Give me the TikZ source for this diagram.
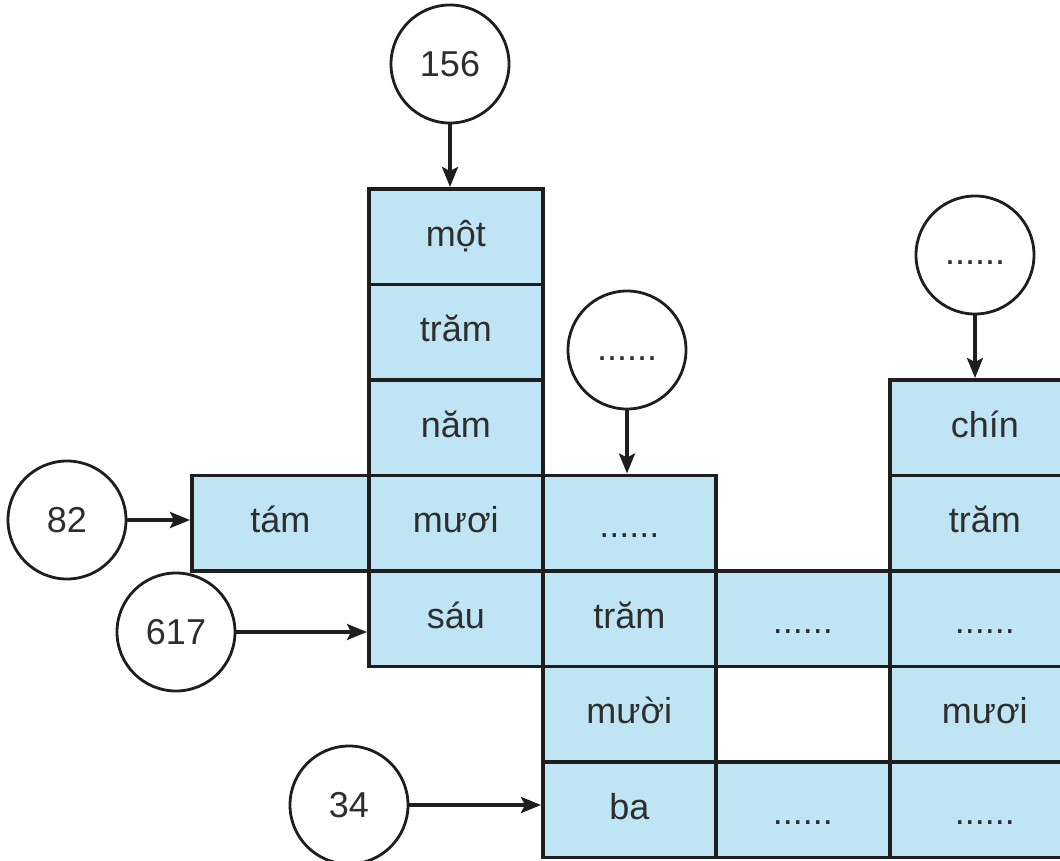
\documentclass[tikz,border=0pt]{standalone}
\usepackage{fontspec}
\setmainfont{Liberation Sans}
\usetikzlibrary{arrows.meta}
\definecolor{cellblue}{HTML}{BFE4F4}
\definecolor{ink}{HTML}{1E1E1E}
\definecolor{txt}{HTML}{2E2E2E}
\begin{document}
\begin{tikzpicture}[x=1pt,y=-1pt,
  cell/.style={draw=ink, line width=3.6pt, fill=cellblue, anchor=north west,
    inner sep=0pt, minimum height=95.5pt, text=txt,
    font=\fontsize{36}{40}\selectfont, text height=27pt, text depth=8pt},
  dotcell/.style={cell, text height=33pt, text depth=4pt},
  wA/.style={minimum width=177pt},
  wB/.style={minimum width=174pt},
  wC/.style={minimum width=173pt},
  wD/.style={minimum width=174pt},
  wE/.style={minimum width=190pt},
  numcirc/.style={circle, draw=ink, line width=2.8pt, fill=white, minimum size=118pt,
    inner sep=0pt, text=txt, font=\fontsize{36}{40}\selectfont},
  dotcirc/.style={numcirc, text height=20pt, text depth=0pt},
  arr/.style={draw=ink, line width=3.4pt, -{Stealth[length=20pt,width=16pt,inset=4pt]}}
]
\clip (0,0) rectangle (1060,861);
\fill[white] (0,0) rectangle (1060,861);

% column 2
\node[cell,wB] (mot)  at (367,187)   {một};
\node[cell,wB] (tramA) at (367,282.5) {trăm};
\node[cell,wB] (nam)  at (367,378)   {năm};
\node[cell,wB] (muoiA) at (367,473.5) {mươi};
\node[cell,wB] (sau)  at (367,569)   {sáu};
% column 1
\node[cell,wA] (tam)  at (190,473.5) {tám};
% column 3
\node[dotcell,wC] (dotsA) at (541,473.5) {......};
\node[cell,wC] (tramB) at (541,569)   {trăm};
\node[cell,wC] (muoiB) at (541,664.5) {mười};
\node[cell,wC] (ba)    at (541,760)   {ba};
% column 4
\node[dotcell,wD] (dotsB) at (714,569) {......};
\node[dotcell,wD] (dotsC) at (714,760) {......};
% column 5
\node[cell,wE] (chin)  at (888,378)   {chín};
\node[cell,wE] (tramC) at (888,473.5) {trăm};
\node[dotcell,wE] (dotsD) at (888,569) {......};
\node[cell,wE] (muoiC) at (888,664.5) {mươi};
\node[dotcell,wE] (dotsE) at (888,760) {......};

% circles
\node[numcirc] (c156) at (450,64)  {156};
\node[dotcirc] (cA)   at (627,350) {......};
\node[dotcirc] (cB)   at (975,255) {......};
\node[numcirc] (c82)  at (67,520)  {82};
\node[numcirc] (c617) at (176,632) {617};
\node[numcirc] (c34)  at (349,805) {34};

% arrows
\draw[arr] (c156.south) -- (c156.south |- mot.north);
\draw[arr] (cA.south) -- (cA.south |- dotsA.north);
\draw[arr] (cB.south) -- (cB.south |- chin.north);
\draw[arr] (c82.east) -- (c82.east -| tam.west);
\draw[arr] (c617.east) -- (c617.east -| sau.west);
\draw[arr] (c34.east) -- (c34.east -| ba.west);
\end{tikzpicture}
\end{document}
